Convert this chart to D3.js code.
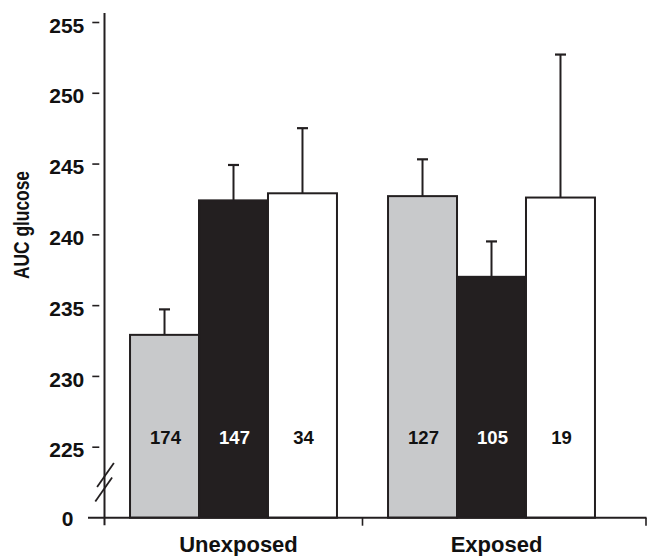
<!DOCTYPE html>
<html>
<head>
<meta charset="utf-8">
<script src="https://cdn.jsdelivr.net/npm/d3@7"></script>
<style>
  html, body { margin: 0; padding: 0; background: #fff; }
  svg { display: block; }
  text { font-family: "Liberation Sans", Arial, Helvetica, sans-serif; font-weight: bold; fill: #111; }
</style>
</head>
<body>
<svg id="chart" width="647" height="556"></svg>
<script>
// ---- data ----
const categories = ["Unexposed", "Exposed"];
const series = ["gray", "black", "white"];
const meanUnexposed = [232.9, 242.4, 242.9];
const errUnexposed  = [1.8, 2.5, 4.6];
const nUnexposed    = [174, 147, 34];
const meanExposed   = [242.7, 237.0, 242.6];
const errExposed    = [2.6, 2.5, 10.1];
const nExposed      = [127, 105, 19];
const yTicks = [225, 230, 235, 240, 245, 250, 255];

const fills = { gray: "#c8c9cb", black: "#231f20", white: "#ffffff" };
const labelFill = { gray: "#111", black: "#fff", white: "#111" };
const ink = "#231f20";

const rows = [];
categories.forEach((c, ci) => {
  const m = ci === 0 ? meanUnexposed : meanExposed;
  const e = ci === 0 ? errUnexposed : errExposed;
  const n = ci === 0 ? nUnexposed : nExposed;
  series.forEach((s, si) => rows.push({ cat: c, s, mean: m[si], err: e[si], n: n[si] }));
});

// ---- layout ----
const axisX = 104.5, rightEnd = 646.5;
const svg = d3.select("#chart");

const x = d3.scaleBand().domain(categories).range([axisX, axisX + 2 * 258]).padding(0);
const xs = d3.scaleBand().domain(series).range([0, x.bandwidth()]).paddingInner(0).paddingOuter(0.37);
// broken axis: 0 maps to baseline, 225..255 linear above the break
const y = d3.scaleLinear().domain([0, 225, 255]).range([517.7, 446.7, 22]);

// bars
const g = svg.append("g");
g.selectAll("rect.bar").data(rows).join("rect")
  .attr("class", "bar")
  .attr("x", d => x(d.cat) + xs(d.s))
  .attr("width", xs.bandwidth())
  .attr("y", d => y(d.mean))
  .attr("height", d => y(0) - y(d.mean))
  .attr("fill", d => fills[d.s])
  .attr("stroke", ink)
  .attr("stroke-width", 2);

// error bars
const cx = d => x(d.cat) + xs(d.s) + xs.bandwidth() / 2;
g.selectAll("line.err").data(rows).join("line")
  .attr("x1", cx).attr("x2", cx)
  .attr("y1", d => y(d.mean)).attr("y2", d => y(d.mean + d.err))
  .attr("stroke", ink).attr("stroke-width", 2);
g.selectAll("line.cap").data(rows).join("line")
  .attr("x1", d => cx(d) - 5.5).attr("x2", d => cx(d) + 5.5)
  .attr("y1", d => y(d.mean + d.err)).attr("y2", d => y(d.mean + d.err))
  .attr("stroke", ink).attr("stroke-width", 2.2);

// n labels
g.selectAll("text.n").data(rows).join("text")
  .attr("x", d => cx(d) + 1)
  .attr("y", 444)
  .attr("text-anchor", "middle")
  .style("font-size", "18.5px")
  .style("fill", d => labelFill[d.s])
  .text(d => d.n);

// y axis
svg.append("line")
  .attr("x1", axisX).attr("x2", axisX)
  .attr("y1", 13).attr("y2", y(0) + 7.5)
  .attr("stroke", ink).attr("stroke-width", 2);

const yAxis = d3.axisLeft(y).tickValues(yTicks).tickSize(7).tickPadding(8).tickFormat(d3.format("d"));
const ya = svg.append("g").attr("transform", `translate(${axisX - 5.2},0)`).call(yAxis);
ya.select(".domain").remove();
ya.selectAll(".tick line").attr("stroke", ink).attr("stroke-width", 1.6);
ya.selectAll(".tick text")
  .attr("dy", "0.48em")
  .style("font-size", "21px")
  .style("font-family", '"Liberation Sans", Arial, sans-serif')
  .style("font-weight", "bold")
  .attr("fill", "#111");

// zero label
svg.append("text")
  .attr("x", 73.5).attr("y", y(0) + 8)
  .attr("text-anchor", "end")
  .style("font-size", "21px")
  .text("0");

// break marks
const mid = (y(0) + y(225)) / 2;
[[-7.2, 1.0], [7.2, -0.8]].forEach(([dy, dx]) => {
  svg.append("line")
    .attr("x1", axisX + dx - 8.4).attr("y1", mid + dy + 12)
    .attr("x2", axisX + dx + 8.4).attr("y2", mid + dy - 12)
    .attr("stroke", ink).attr("stroke-width", 1.8);
});

// x axis baseline
svg.append("line")
  .attr("x1", 88).attr("x2", rightEnd)
  .attr("y1", y(0)).attr("y2", y(0))
  .attr("stroke", ink).attr("stroke-width", 2);
// separator ticks
const sepX = categories.slice(1).map(c => x(c)).concat([rightEnd - 0.5]);
svg.selectAll("line.sep").data(sepX).join("line")
  .attr("x1", d => d).attr("x2", d => d)
  .attr("y1", y(0)).attr("y2", y(0) + 8)
  .attr("stroke", ink).attr("stroke-width", 1.6);

// category labels
svg.selectAll("text.cat").data(categories).join("text")
  .attr("x", c => x(c) + x.bandwidth() / 2 + 5)
  .attr("y", 552)
  .attr("text-anchor", "middle")
  .style("font-size", "22px")
  .text(c => c);

// y label
svg.append("text")
  .attr("transform", `translate(28.5,225) rotate(-90)`)
  .attr("text-anchor", "middle")
  .attr("textLength", 108)
  .attr("lengthAdjust", "spacingAndGlyphs")
  .style("font-size", "22.5px")
  .text("AUC glucose");
</script>
</body>
</html>
